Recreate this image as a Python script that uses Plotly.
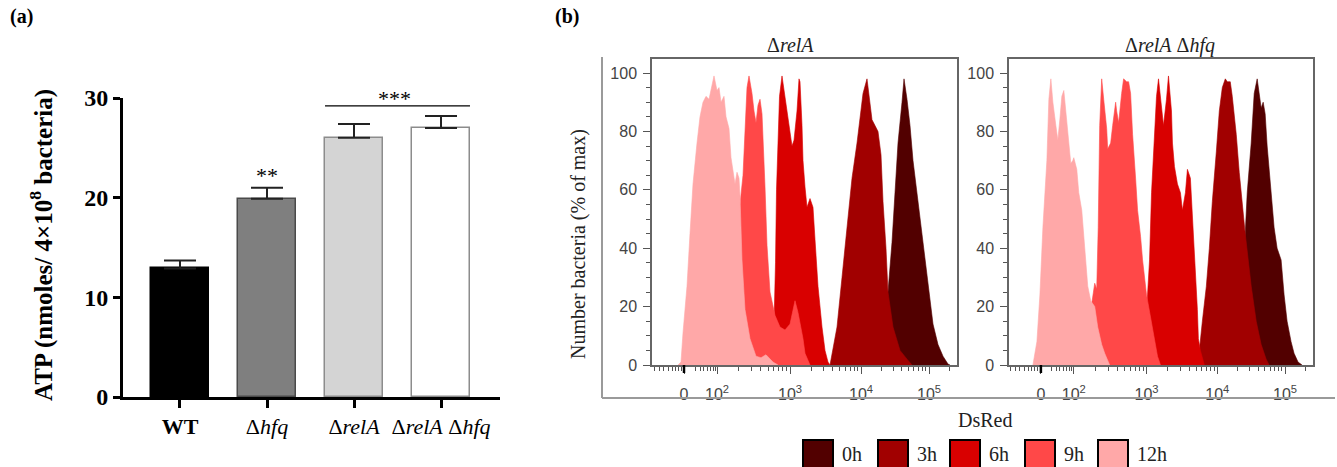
import math
import plotly.graph_objects as go

W, H = 1337, 467


def fx(x):
    """Horizontal pixel position -> paper fraction."""
    return x / W


def fy(y):
    """Vertical pixel position (from top) -> paper fraction."""
    return 1 - y / H


SERIF = "Liberation Serif"
SANS = "Liberation Sans"

# ---------------- Panel (a): ATP content ----------------
STRAINS = ["<b>WT</b>", "Δ<i>hfq</i>", "Δ<i>relA</i>", "Δ<i>relA</i> Δ<i>hfq</i>"]
ATP_MEAN = [12.9, 19.9, 26.0, 27.0]
ATP_SEM = [0.8, 1.1, 1.4, 1.2]
BAR_FILL = ["#000000", "#7f7f7f", "#d4d4d4", "#ffffff"]
BAR_EDGE = ["#000000", "#4a4a4a", "#8c8c8c", "#8c8c8c"]

# ---------------- Panel (b): DsRed flow cytometry histograms ----------------
# x: DsRed display channel (biexponential scale), y: % of max
TIMES = ["0h", "3h", "6h", "9h", "12h"]
TIME_COLORS = ["#520000", "#a10000", "#d90000", "#ff4848", "#ffa8a8"]

RELA_0H_X = [226, 232, 236, 240, 243, 246, 250, 252, 255, 258, 261, 265, 268, 271, 275, 278, 281, 286, 291, 296, 298]
RELA_0H_Y = [0, 8, 25, 42, 59, 76, 90, 98, 91, 82, 70, 59, 50, 41, 31, 22, 14, 7, 3, 0.3, 0]
RELA_3H_X = [178, 185, 190, 195, 200, 205, 208, 211, 215, 217, 220, 223, 226, 229, 231, 234, 236, 241, 248, 255, 260]
RELA_3H_Y = [0, 13, 30, 47, 64, 76, 84, 93, 98, 92, 84, 82, 80, 72, 56, 40, 25, 13, 5, 2, 0]
RELA_6H_X = [110, 118, 122, 123.5, 124.5, 126, 127.5, 130, 133, 136, 140, 142, 145, 147, 148, 150, 151, 153, 155, 158,
             161, 163, 166, 170, 173, 176, 178]
RELA_6H_Y = [0, 5, 14, 35, 60, 80, 92, 99, 92, 85, 75, 77, 87, 98, 97, 82, 70, 61, 54, 57,
             54, 43, 27, 13, 5, 1, 0]
RELA_9H_X = [60, 75, 84, 88, 91, 93, 95, 97, 100, 102, 104, 106, 108, 110, 111, 113, 115, 117, 118, 123,
             128, 133, 138, 143, 146, 151, 153, 158]
RELA_9H_Y = [0, 5, 30, 55, 65, 82, 95, 99, 93, 87, 83, 89, 91, 86, 75, 61, 41, 30, 25, 17,
             13, 12, 14, 22, 18, 9, 4, 0]
RELA_12H_X = [26, 29, 31, 35, 38, 41, 45, 48, 51, 54, 57, 59, 62, 65, 67, 69, 72, 74, 77, 79,
              81, 83, 85, 87, 88, 90, 93, 98, 104, 109, 114, 121, 126]
RELA_12H_Y = [0, 1, 11, 27, 45, 62, 76, 85, 90, 92, 91, 94, 99, 94, 95, 90, 92, 85, 81, 71,
              67, 62, 66, 64, 58, 36, 19, 9, 3, 2.5, 3.5, 1, 0]

DBL_0H_X = [228, 234, 237, 239, 243, 246, 249, 251, 253, 255, 257, 259, 263, 266, 269, 273, 276, 279, 283, 286, 290, 294]
DBL_0H_Y = [0, 20, 45, 59, 76, 93, 98, 92, 88, 90, 86, 75, 59, 47, 40, 36, 24, 15, 8, 4, 1, 0]
DBL_3H_X = [186, 191, 194, 198, 201, 204, 208, 211, 214, 217, 219, 222, 224, 228, 231, 234, 237, 243, 248, 253, 258, 261]
DBL_3H_Y = [0, 5, 15, 27, 40, 56, 73, 87, 95, 98, 97, 97, 92, 79, 66, 54, 45, 27, 15, 7, 2, 0]
DBL_6H_X = [125, 135, 139, 141, 143, 146, 148, 150, 153, 155, 158, 160, 163, 164, 166, 169, 172, 174, 177, 179,
            182, 184, 187, 189, 190, 192, 196]
DBL_6H_Y = [0, 10, 24, 36, 59, 82, 92, 98, 87, 82, 91, 99, 87, 76, 68, 62, 59, 53, 59, 67,
            64, 51, 36, 19, 9, 5, 0]
DBL_9H_X = [60, 72, 80, 83, 86, 88, 89.5, 91, 93, 95, 98, 99, 102, 104, 107, 108, 110, 113, 115, 118,
            120, 122, 124, 127, 129, 132, 134, 138, 141, 145, 149, 152]
DBL_9H_Y = [0, 4, 14, 22, 28, 26, 47, 82, 98, 91, 81, 74, 76, 82, 90, 87, 83, 93, 98, 97,
            97, 93, 79, 64, 53, 44, 36, 24, 18, 10, 3, 0]
DBL_12H_X = [24, 28, 31, 34, 38, 40, 42, 44, 47, 49, 51, 53, 55, 57, 59, 62, 64, 65, 68, 70,
             73, 75, 77, 79, 82, 86, 89, 93, 96, 101]
DBL_12H_Y = [0, 8, 24, 47, 70, 91, 98, 90, 82, 77, 84, 92, 94, 87, 78, 69, 70, 71, 67, 59,
             53, 45, 34, 27, 22, 20, 13, 7, 4, 0]

RELA_SERIES = [(RELA_0H_X, RELA_0H_Y), (RELA_3H_X, RELA_3H_Y), (RELA_6H_X, RELA_6H_Y),
               (RELA_9H_X, RELA_9H_Y), (RELA_12H_X, RELA_12H_Y)]
DBL_SERIES = [(DBL_0H_X, DBL_0H_Y), (DBL_3H_X, DBL_3H_Y), (DBL_6H_X, DBL_6H_Y),
              (DBL_9H_X, DBL_9H_Y), (DBL_12H_X, DBL_12H_Y)]

# Biexponential axis: channel positions of the labelled decades
DECADE_POS = [32, 65, 138, 209, 277]
DECADE_TEXT = ["0", "10<sup>2</sup>", "10<sup>3</sup>", "10<sup>4</sup>", "10<sup>5</sup>"]
LINEAR_MINOR = [2, 7, 11, 16, 20, 23, 26, 29, 43, 48, 51, 55, 58, 61, 63]

minor_ticks = list(LINEAR_MINOR)
decade_edges = DECADE_POS[1:]
for lo, hi in zip(decade_edges[:-1], decade_edges[1:]):
    for k in range(2, 10):
        minor_ticks.append(lo + (hi - lo) * math.log10(k))
minor_ticks.append(decade_edges[-1] + (decade_edges[-1] - decade_edges[-2]) * math.log10(2))

fig = go.Figure()

# ---- bars ----
fig.add_trace(go.Bar(
    x=list(range(len(STRAINS))), y=ATP_MEAN, width=0.667,
    marker=dict(color=BAR_FILL, line=dict(color=BAR_EDGE, width=1.5)),
    error_y=dict(type="data", symmetric=False, array=ATP_SEM, arrayminus=[0] * len(ATP_SEM),
                 color="#222222", thickness=2, width=16),
    xaxis="x", yaxis="y", showlegend=False, hoverinfo="skip",
))

# ---- histograms ----
for series, xa, ya in [(RELA_SERIES, "x2", "y2"), (DBL_SERIES, "x3", "y3")]:
    for (xs, ys), name, col in zip(series, TIMES, TIME_COLORS):
        fig.add_trace(go.Scatter(
            x=xs, y=ys, mode="lines", fill="tozeroy", name=name,
            line=dict(color=col, width=0.6), fillcolor=col,
            xaxis=xa, yaxis=ya, showlegend=False, hoverinfo="skip",
        ))

# ---- axes ----
bar_x = dict(
    domain=[fx(123), fx(500)], range=[-0.655, 3.678], anchor="y",
    tickmode="array", tickvals=list(range(len(STRAINS))), ticktext=STRAINS,
    showline=True, linecolor="black", linewidth=3,
    ticks="outside", ticklen=8, tickwidth=3, tickcolor="black",
    tickfont=dict(family=SERIF, size=22, color="black"),
    ticklabelstandoff=0, showgrid=False, zeroline=False, automargin=False,
)
bar_y = dict(
    domain=[fy(397), fy(98)], range=[0, 30], anchor="x",
    tickmode="array", tickvals=[0, 10, 20, 30],
    showline=True, linecolor="black", linewidth=3,
    ticks="outside", ticklen=7, tickwidth=3, tickcolor="black",
    tickfont=dict(family=SERIF, size=24, color="black", weight="bold"),
    showgrid=False, zeroline=False, automargin=False,
)


def hist_x(dom, anchor):
    return dict(
        domain=dom, range=[0, 305], anchor=anchor,
        tickmode="array", tickvals=DECADE_POS, ticktext=DECADE_TEXT,
        showline=True, linecolor="#666666", linewidth=1.5, mirror=True,
        ticks="outside", ticklen=7, tickwidth=1.2, tickcolor="#555555",
        tickfont=dict(family=SANS, size=16, color="#444444"),
        minor=dict(tickmode="array", tickvals=minor_ticks, ticks="outside",
                   ticklen=4, tickwidth=1, tickcolor="#555555"),
        ticklabelstandoff=7, showgrid=False, zeroline=False, automargin=False,
    )


def hist_y(anchor):
    return dict(
        domain=[fy(365), fy(59)], range=[0, 104.8], anchor=anchor,
        tickmode="array", tickvals=[0, 20, 40, 60, 80, 100],
        showline=True, linecolor="#666666", linewidth=1.5, mirror=True,
        ticks="outside", ticklen=7, tickwidth=1.2, tickcolor="#555555",
        tickfont=dict(family=SANS, size=16, color="#444444"),
        minor=dict(dtick=5, ticks="outside", ticklen=4, tickwidth=1, tickcolor="#555555"),
        ticklabelstandoff=3, showgrid=False, zeroline=False, automargin=False,
    )


annotations = [
    dict(text="<b>(a)</b>", x=fx(8), y=fy(16), xanchor="left", yanchor="middle",
         font=dict(family=SERIF, size=20, color="black")),
    dict(text="<b>(b)</b>", x=fx(553), y=fy(16), xanchor="left", yanchor="middle",
         font=dict(family=SERIF, size=20, color="black")),
    dict(text="<b>ATP (nmoles/ 4×10<sup>8</sup> bacteria)</b>", x=fx(42), y=fy(245),
         textangle=-90, xanchor="center", yanchor="middle",
         font=dict(family=SERIF, size=25, color="black")),
    dict(text="**", x=1, y=22.2, xref="x", yref="y", xanchor="center", yanchor="middle",
         font=dict(family=SERIF, size=22, color="black")),
    dict(text="***", x=fx(394), y=fy(98), xanchor="center", yanchor="middle",
         font=dict(family=SERIF, size=22, color="black")),
    dict(text="Number bacteria (% of max)", x=fx(579), y=fy(244), textangle=-90,
         xanchor="center", yanchor="middle", font=dict(family=SERIF, size=20, color="#222222")),
    dict(text="Δ<i>relA</i>", x=fx(790), y=fy(45), xanchor="center", yanchor="middle",
         font=dict(family=SERIF, size=20, color="#222222")),
    dict(text="Δ<i>relA</i> Δ<i>hfq</i>", x=fx(1170), y=fy(45), xanchor="center", yanchor="middle",
         font=dict(family=SERIF, size=20, color="#222222")),
    dict(text="DsRed", x=fx(985), y=fy(420), xanchor="center", yanchor="middle",
         font=dict(family=SERIF, size=20, color="#222222")),
]
for a in annotations:
    a.setdefault("xref", "paper")
    a.setdefault("yref", "paper")
    a["showarrow"] = False

shapes = [
    # significance bar over the relA strains
    dict(type="line", xref="x", yref="y", x0=2 - 0.333, x1=3 + 0.333, y0=29.2, y1=29.2,
         line=dict(color="black", width=1.2)),
    # frame around panel (b)
    dict(type="line", xref="paper", yref="paper", x0=fx(602), x1=fx(602), y0=fy(57), y1=fy(398),
         line=dict(color="#9a9a9a", width=2)),
    dict(type="line", xref="paper", yref="paper", x0=fx(602), x1=fx(1335), y0=fy(398), y1=fy(398),
         line=dict(color="#9a9a9a", width=2)),
]
# emphasised zero tick on both histogram axes
for xr in ["x2", "x3"]:
    shapes.append(dict(type="line", xref=xr, yref="paper", x0=DECADE_POS[0], x1=DECADE_POS[0],
                       y0=fy(365), y1=fy(373), line=dict(color="black", width=2.5)))

# time-point key
KEY_LEFT = [803, 878, 950, 1025, 1098]
for left, name, col in zip(KEY_LEFT, TIMES, TIME_COLORS):
    shapes.append(dict(type="rect", xref="paper", yref="paper", x0=fx(left), x1=fx(left + 30),
                       y0=fy(469), y1=fy(440), fillcolor=col, line=dict(color="black", width=2)))
    annotations.append(dict(text=name, x=fx(left + 37), y=fy(454), xref="paper", yref="paper",
                            xanchor="left", yanchor="middle", showarrow=False,
                            font=dict(family=SERIF, size=20, color="#222222")))

fig.update_layout(
    width=W, height=H, autosize=False,
    margin=dict(l=0, r=0, t=0, b=0, pad=0, autoexpand=False),
    paper_bgcolor="white", plot_bgcolor="white", showlegend=False,
    xaxis=bar_x, yaxis=bar_y,
    xaxis2=hist_x([fx(652), fx(957)], "y2"), yaxis2=hist_y("x2"),
    xaxis3=hist_x([fx(1009), fx(1313)], "y3"), yaxis3=hist_y("x3"),
    annotations=annotations, shapes=shapes, bargap=0,
)

fig.write_html("out.html")
